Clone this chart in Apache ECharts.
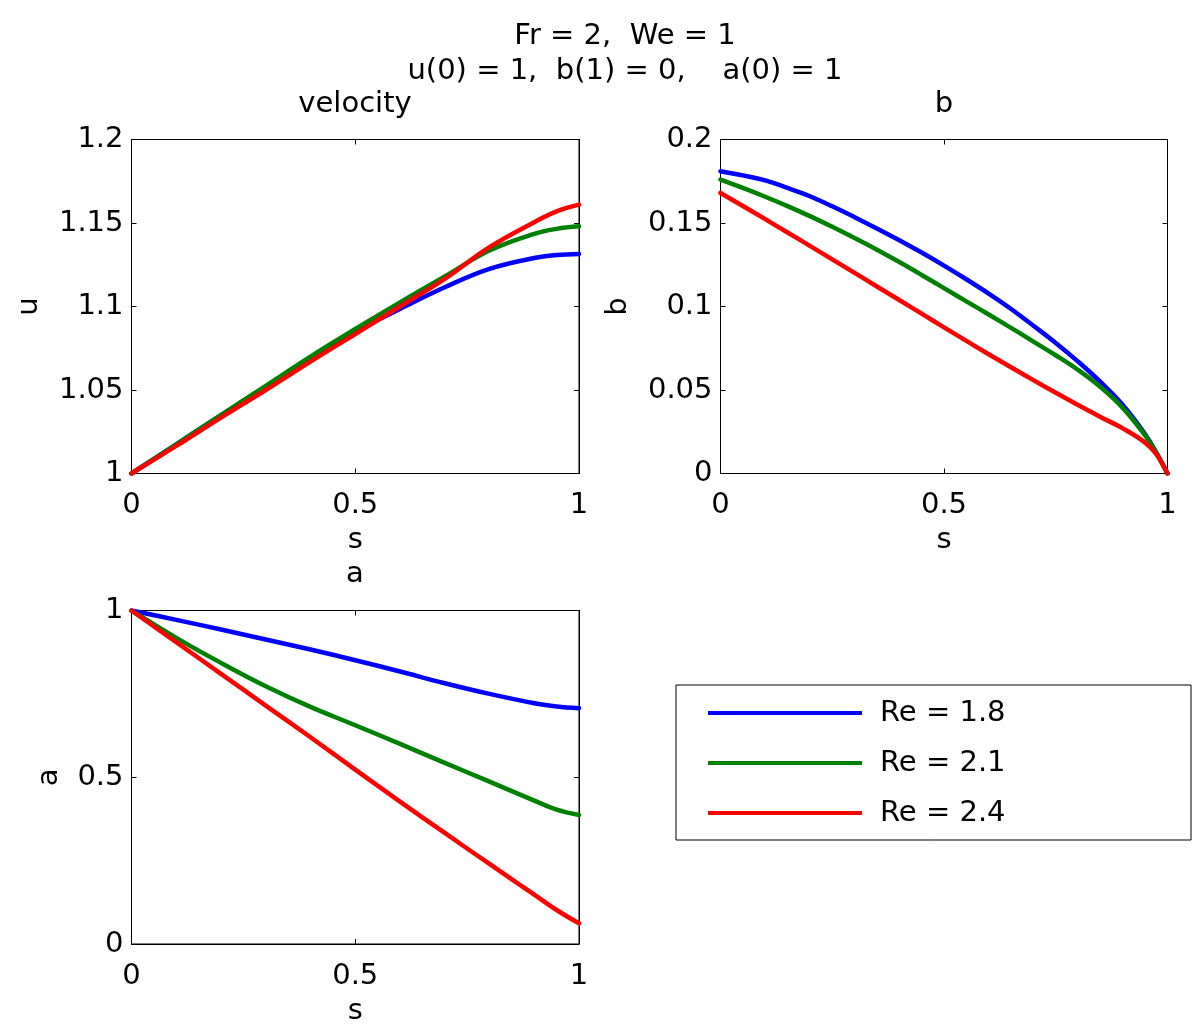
<!DOCTYPE html>
<html>
<head>
<meta charset="utf-8">
<script src="https://cdn.jsdelivr.net/npm/echarts@6/dist/echarts.min.js"></script>
<style>
html,body{margin:0;padding:0;background:#fff;}
#chart{width:1200px;height:1034px;}
</style>
</head>
<body>
<div id="chart"></div>
<script>
// ---------- data ----------
const seriesNames = ['Re = 1.8', 'Re = 2.1', 'Re = 2.4'];
const seriesColors = ['#0000ff', '#008000', '#ff0000'];

// s grid for u and a
const sGrid = [0, 0.1, 0.2, 0.3, 0.4, 0.5, 0.6, 0.7, 0.8, 0.9, 0.95, 1.0];
// velocity u(s)
const uRe18 = [1, 1.0175, 1.035, 1.052, 1.069, 1.085, 1.0985, 1.1115, 1.1225, 1.129, 1.1308, 1.1315];
const uRe21 = [1, 1.0175, 1.035, 1.0525, 1.070, 1.0865, 1.1025, 1.118, 1.1335, 1.1435, 1.1465, 1.148];
const uRe24 = [1, 1.0165, 1.0335, 1.050, 1.067, 1.0835, 1.100, 1.1165, 1.1355, 1.1505, 1.157, 1.161];
// a(s)
const aRe18 = [1, 0.972, 0.943, 0.913, 0.883, 0.851, 0.817, 0.782, 0.750, 0.722, 0.712, 0.707];
const aRe21 = [1, 0.918, 0.843, 0.773, 0.711, 0.656, 0.600, 0.543, 0.487, 0.430, 0.403, 0.387];
const aRe24 = [1, 0.905, 0.810, 0.715, 0.620, 0.523, 0.427, 0.333, 0.240, 0.148, 0.102, 0.062];

// s grid for b
const sGridB = [0, 0.05, 0.1, 0.15, 0.2, 0.25, 0.3, 0.35, 0.4, 0.45, 0.5, 0.55, 0.6, 0.65, 0.7, 0.75, 0.8, 0.85, 0.9, 0.95, 0.975, 1.0];
const bRe18 = [0.181, 0.1785, 0.1755, 0.171, 0.166, 0.160, 0.1535, 0.1467, 0.1397, 0.1323, 0.1245, 0.1163, 0.1077, 0.0985, 0.0885, 0.0782, 0.067, 0.0548, 0.041, 0.0235, 0.0125, 0];
const bRe21 = [0.176, 0.171, 0.1657, 0.1601, 0.1541, 0.1477, 0.141, 0.134, 0.1266, 0.1189, 0.111, 0.1031, 0.0952, 0.0872, 0.079, 0.0708, 0.062, 0.0518, 0.0393, 0.0228, 0.0123, 0];
const bRe24 = [0.168, 0.1602, 0.1523, 0.1443, 0.1363, 0.1282, 0.1201, 0.112, 0.1039, 0.0957, 0.0875, 0.0794, 0.0714, 0.0636, 0.0559, 0.0484, 0.041, 0.0339, 0.027, 0.0185, 0.0115, 0];

// tick values
const sTicks = [0, 0.5, 1];
const uTicks = [1, 1.05, 1.1, 1.15, 1.2];
const bTicks = [0, 0.05, 0.1, 0.15, 0.2];
const aTicks = [0, 0.5, 1];

// ---------- layout / style ----------
const FONT = 'DejaVu Sans';
const FS = 29;
const grids = [
  {left: 131.5, top: 139.5, width: 447.5, height: 334},
  {left: 720.5, top: 139.5, width: 447, height: 334},
  {left: 131.5, top: 610.5, width: 447.5, height: 333.5}
];
const yInfo = [
  {ticks: uTicks, name: 'u', gap: 102},
  {ticks: bTicks, name: 'b', gap: 102},
  {ticks: aTicks, name: 'a', gap: 82}
];

const axisLine = {show: true, onZero: false, lineStyle: {color: '#000', width: 1}};
const axisTick = {show: true, inside: true, length: 5, lineStyle: {color: '#000', width: 1}};
const txt = {color: '#000', fontFamily: FONT, fontSize: FS};

const xAxes = [], yAxes = [];
grids.forEach((g, i) => {
  const step = sTicks[1] - sTicks[0];
  xAxes.push({
    gridIndex: i, type: 'value', position: 'bottom',
    min: sTicks[0], max: sTicks[sTicks.length - 1], interval: step,
    axisLine, axisTick, splitLine: {show: false},
    axisLabel: Object.assign({margin: 32, verticalAlign: 'middle'}, txt),
    name: 's', nameLocation: 'middle', nameGap: 67,
    nameTextStyle: Object.assign({verticalAlign: 'middle'}, txt)
  });
  xAxes.push({
    gridIndex: i, type: 'value', position: 'top',
    min: sTicks[0], max: sTicks[sTicks.length - 1], interval: step,
    axisLine, axisTick, splitLine: {show: false}, axisLabel: {show: false}
  });
  const yi = yInfo[i];
  const ys = +(yi.ticks[1] - yi.ticks[0]).toFixed(6);
  yAxes.push({
    gridIndex: i, type: 'value', position: 'left',
    min: yi.ticks[0], max: yi.ticks[yi.ticks.length - 1], interval: ys,
    axisLine, axisTick, splitLine: {show: false},
    axisLabel: Object.assign({margin: 8}, txt),
    name: yi.name, nameLocation: 'middle', nameGap: yi.gap, nameRotate: 90,
    nameTextStyle: Object.assign({verticalAlign: 'middle'}, txt)
  });
  yAxes.push({
    gridIndex: i, type: 'value', position: 'right',
    min: yi.ticks[0], max: yi.ticks[yi.ticks.length - 1], interval: ys,
    axisLine, axisTick, splitLine: {show: false}, axisLabel: {show: false}
  });
});

function pairs(xs, ys) { return xs.map((x, k) => [x, ys[k]]); }
const panels = [
  {xs: sGrid, sets: [uRe18, uRe21, uRe24]},
  {xs: sGridB, sets: [bRe18, bRe21, bRe24]},
  {xs: sGrid, sets: [aRe18, aRe21, aRe24]}
];
const series = [];
panels.forEach((p, gi) => {
  p.sets.forEach((vals, si) => {
    series.push({
      type: 'line', name: seriesNames[si],
      xAxisIndex: gi * 2, yAxisIndex: gi * 2,
      data: pairs(p.xs, vals),
      smooth: 0.4,
      symbol: 'none', showSymbol: false,
      lineStyle: {color: seriesColors[si], width: 4.5, cap: 'round', join: 'round'},
      itemStyle: {color: seriesColors[si]},
      z: 2 + si
    });
  });
});

function label(text, x, y) {
  return {type: 'text', x: x, y: y, silent: true,
    style: {text: text, fill: '#000', fontFamily: FONT, fontSize: FS,
      textAlign: 'center', textVerticalAlign: 'middle'}};
}

const option = {
  animation: false,
  backgroundColor: '#fff',
  grid: grids.map(g => Object.assign({containLabel: false, show: true, borderColor: '#000', borderWidth: 1, backgroundColor: 'transparent'}, g)),
  xAxis: xAxes,
  yAxis: yAxes,
  series: series,
  legend: {
    data: seriesNames, orient: 'vertical',
    left: 708, top: 698, padding: 0,
    itemWidth: 154, itemHeight: 4, itemGap: 20, icon: 'rect',
    selectedMode: false,
    textStyle: Object.assign({lineHeight: 30, padding: [0, 0, 0, 13]}, txt),
    z: 10
  },
  graphic: [
    {type: 'rect', shape: {x: 676, y: 685, width: 515, height: 155}, z: 1,
      style: {fill: '#fff', stroke: '#000', lineWidth: 1}, silent: true},
    label('Fr = 2,  We = 1', 625, 36),
    label('u(0) = 1,  b(1) = 0,    a(0) = 1', 625, 71),
    label('velocity', 355, 104),
    label('b', 944, 104),
    label('a', 355, 574)
  ]
};

const chart = echarts.init(document.getElementById('chart'), null, {renderer: 'canvas'});
chart.setOption(option);
</script>
</body>
</html>
